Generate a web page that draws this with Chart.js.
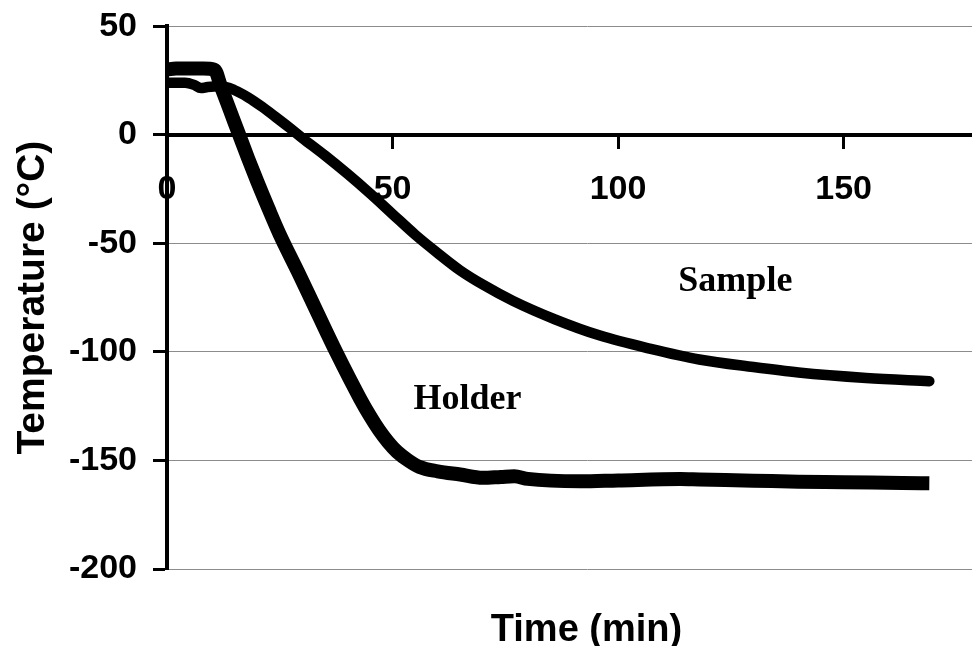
<!DOCTYPE html>
<html>
<head>
<meta charset="utf-8">
<script src="https://cdn.jsdelivr.net/npm/chart.js@4/dist/chart.umd.min.js"></script>
<style>
  html, body { margin: 0; padding: 0; background: #fff; overflow: hidden; }
  #wrap { width: 1006px; height: 646px; }
</style>
</head>
<body>
<div id="wrap"><canvas id="c" width="1006" height="646"></canvas></div>
<script>
// Cooling curves: time in minutes, temperature in °C
const holderTime = [0, 2, 5, 8, 10.5, 12, 14, 16, 18, 20, 22.5, 25, 29, 33, 37.6, 42.8, 45, 47, 49, 51, 53.5, 56, 60, 65, 70, 74, 77, 80, 91.6, 100, 113.8, 118, 130, 140, 150, 163, 169];
const holderTemp = [30, 30.5, 30.5, 30.5, 30, 22, 11, 0, -11, -21.5, -34, -46, -63, -80.5, -100.5, -121.5, -129.5, -136, -141.5, -146, -150, -153, -155, -156.5, -158, -157.6, -157.3, -158.5, -159.6, -159.2, -158.6, -158.8, -159.3, -159.8, -160, -160.4, -160.5];

const sampleTime = [0, 4, 6, 7.5, 9, 12, 15, 18, 21, 24, 27, 30, 35, 40, 45, 50, 55, 60, 65, 70, 76.7, 86, 96, 107, 118, 130, 140, 155, 169];
const sampleTemp = [24, 24, 23, 21.5, 22, 22.3, 20.5, 17.2, 13, 8.3, 3.5, -1.5, -9.5, -18, -27, -36.5, -46, -54.5, -62.5, -69, -76.5, -85, -92.5, -98.5, -103.5, -107, -109.5, -112, -113.5];

const timeTicks = [0, 50, 100, 150];
const tempTicks = [-200, -150, -100, -50, 0, 50];
const seriesNames = ['Holder', 'Sample'];

const toPoints = (xs, ys) => xs.map((x, i) => ({ x: x, y: ys[i] }));

const sansBold = (size, lh) => ({ family: '"Liberation Sans", Arial, sans-serif', weight: 'bold', size: size, lineHeight: lh || 1.2 });

// Curve names written next to each trace
const curveNames = {
  id: 'curveNames',
  afterDatasetsDraw(chart) {
    const { ctx, scales } = chart;
    const spots = [[66.6, -122.2], [126, -67.7]];
    ctx.save();
    ctx.fillStyle = '#000';
    ctx.font = 'bold 36px "Liberation Serif", "Times New Roman", serif';
    ctx.textAlign = 'center';
    ctx.textBaseline = 'middle';
    seriesNames.forEach((name, i) => {
      ctx.fillText(name, scales.x.getPixelForValue(spots[i][0]), scales.y.getPixelForValue(spots[i][1]));
    });
    ctx.restore();
  }
};

new Chart(document.getElementById('c'), {
  type: 'line',
  data: {
    datasets: [
      {
        label: seriesNames[0],
        data: toPoints(holderTime, holderTemp),
        borderColor: '#000',
        borderWidth: 14,
        pointRadius: 0,
        cubicInterpolationMode: 'monotone',
        borderJoinStyle: 'round',
        fill: false
      },
      {
        label: seriesNames[1],
        data: toPoints(sampleTime, sampleTemp),
        borderColor: '#000',
        borderWidth: 10.5,
        pointRadius: 0,
        cubicInterpolationMode: 'monotone',
        borderJoinStyle: 'round',
        borderCapStyle: 'round',
        fill: false
      }
    ]
  },
  options: {
    responsive: false,
    animation: false,
    devicePixelRatio: 1,
    layout: { padding: { top: 0, left: 0, right: 0, bottom: 0 } },
    plugins: { legend: { display: false }, tooltip: { enabled: false } },
    scales: {
      x: {
        type: 'linear',
        position: { y: 0 },
        min: 0,
        max: 186,
        afterBuildTicks: s => { s.ticks = timeTicks.map(v => ({ value: v })); },
        ticks: { font: sansBold(34), color: '#000', padding: 22, maxRotation: 0, autoSkip: false },
        grid: { drawOnChartArea: false, tickLength: 12, tickWidth: 3, tickColor: '#000', color: '#000' },
        border: { display: true, color: '#000', width: 4 }
      },
      xTitle: {
        type: 'linear',
        position: 'bottom',
        min: 0,
        max: 186,
        ticks: { display: false },
        grid: { display: false },
        border: { display: false },
        title: { display: true, text: 'Time (min)', font: sansBold(38, 0.8), color: '#000', padding: { top: 0, bottom: 0 } },
        afterFit: s => { s.height = 77; }
      },
      y: {
        type: 'linear',
        position: 'left',
        min: -200,
        max: 50,
        afterBuildTicks: s => { s.ticks = tempTicks.map(v => ({ value: v })); },
        afterFit: s => { s.width = 167; },
        ticks: { font: sansBold(34, 0.6), color: '#000', padding: 16 },
        grid: {
          color: c => (c.tick && c.tick.value === 0) ? 'rgba(0,0,0,0)' : '#8c8c8c',
          lineWidth: 1,
          tickLength: 14,
          tickWidth: 3,
          tickColor: '#000'
        },
        border: { color: '#000', width: 4 },
        title: { display: true, text: 'Temperature (°C)', font: sansBold(39), color: '#000', padding: { top: 10, bottom: 0 } }
      }
    }
  },
  plugins: [curveNames]
});
</script>
</body>
</html>
